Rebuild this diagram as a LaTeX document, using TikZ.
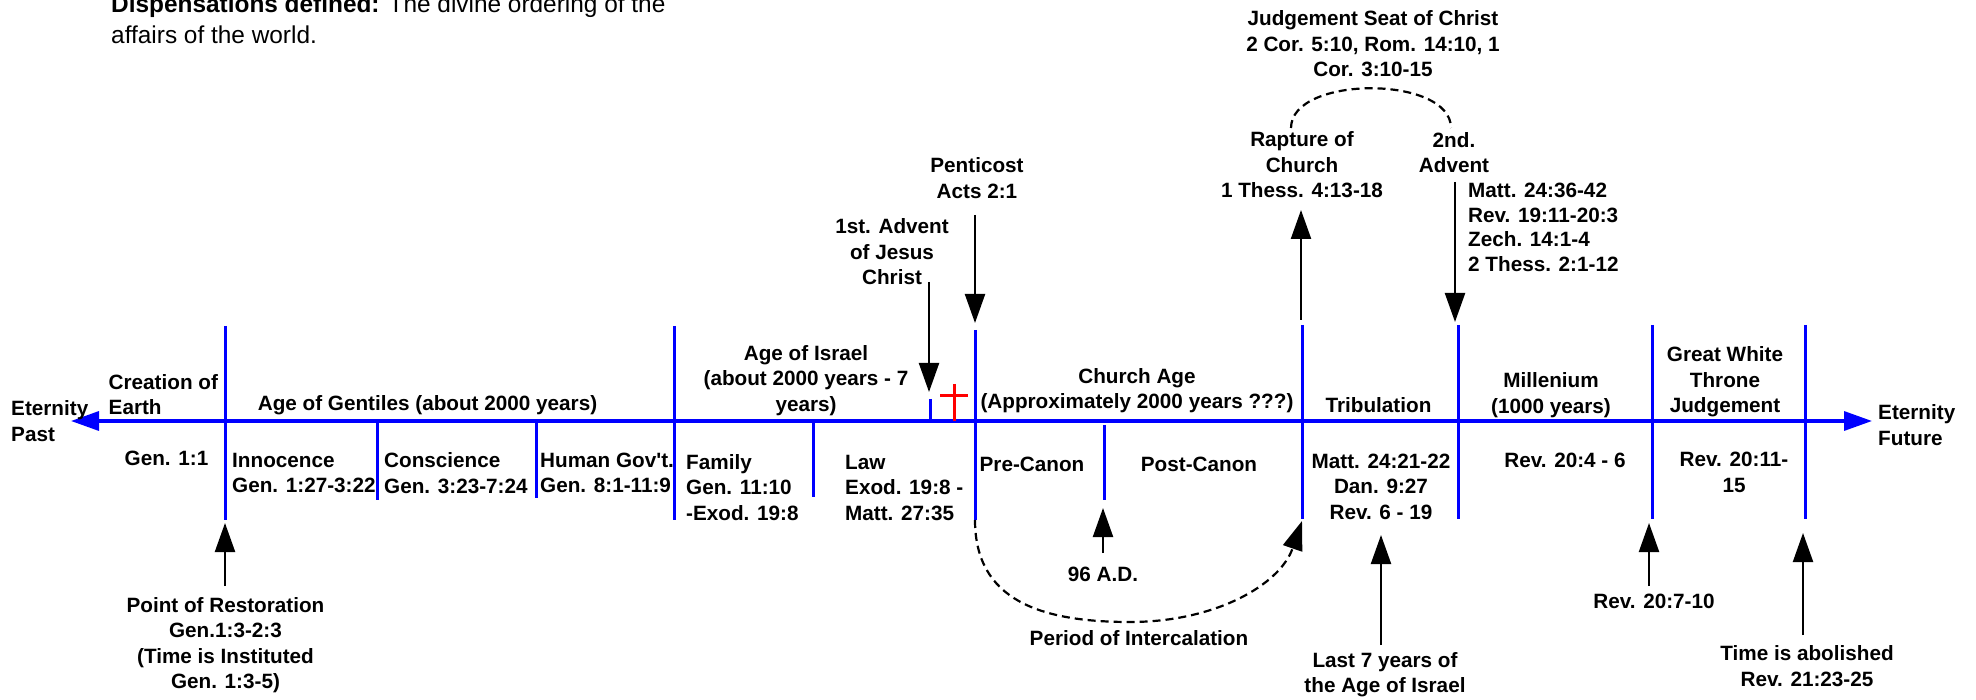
\documentclass[tikz,border=0pt]{standalone}
\usepackage{fontspec}
\setmainfont{Liberation Sans}[Ligatures=TeXOff]
\usetikzlibrary{arrows.meta}
\begin{document}
\begin{tikzpicture}[x=1pt,y=-1pt,
  lbl/.style={font=\fontsize{20.7}{25.5}\selectfont\bfseries, inner sep=0pt, align=center},
  lbll/.style={lbl, align=left},
  bline/.style={draw=blue, line width=3pt},
  axisline/.style={draw=blue, line width=3.4pt, {Triangle[length=28pt,width=19pt]}-{Triangle[length=28pt,width=19pt]}},
  arr/.style={draw=black, line width=2.2pt, -{Triangle[length=29pt,width=20pt]}},
  dasharc/.style={draw=black, line width=2.2pt, dash pattern=on 8pt off 5pt},
  crossline/.style={draw=red, line width=3pt}]
\fill[white] (0,0) rectangle (1976,700);
\useasboundingbox (0,0) rectangle (1976,700);

% title
\node[anchor=north west, inner sep=0pt, align=left, font=\fontsize{24.4}{31}\selectfont] (title) at (111,-5.8)
  {\textbf{Dispensations defined:} The divine ordering of the\\affairs of the world.};

% coordinates of the time line
\coordinate (axL) at (71,421);
\coordinate (axR) at (1872,421);
\coordinate (c1t) at (225,326);  \coordinate (c1b) at (225,520);
\coordinate (c2t) at (377,421);  \coordinate (c2b) at (377,500);
\coordinate (c3t) at (536,421);  \coordinate (c3b) at (536,498);
\coordinate (c4t) at (674,326);  \coordinate (c4b) at (674,520);
\coordinate (c5t) at (813,421);  \coordinate (c5b) at (813,497);
\coordinate (c6t) at (930,399);  \coordinate (c6b) at (930,421);
\coordinate (c7t) at (975,330);  \coordinate (c7b) at (975,520);
\coordinate (c8t) at (1104,425); \coordinate (c8b) at (1104,500);
\coordinate (c9t) at (1302,325); \coordinate (c9b) at (1302,519);
\coordinate (c10t) at (1458,325); \coordinate (c10b) at (1458,519);
\coordinate (c11t) at (1652,325); \coordinate (c11b) at (1652,519);
\coordinate (c12t) at (1805,325); \coordinate (c12b) at (1805,519);

% time line and dividers
\draw[axisline] (axL) -- (axR);
\foreach \i in {1,...,12} { \draw[bline] (c\i t) -- (c\i b); }

% cross
\coordinate (crT) at (954,384); \coordinate (crB) at (954,421);
\coordinate (crL) at (940,396); \coordinate (crR) at (968,396);
\draw[crossline] (crT) -- (crB);
\draw[crossline] (crL) -- (crR);

% labels
\node[lbll, anchor=west] (etpast) at (11,421) {Eternity\\Past};
\node[lbll, anchor=west] (creation) at (108.5,394.5) {Creation of\\Earth};
\node[lbl] (gentiles) at (427.5,405) {Age of Gentiles (about 2000 years)};
\node[lbl] (gen11) at (166.5,458) {Gen. 1:1};
\node[lbll, anchor=west] (innocence) at (232,473) {Innocence\\Gen. 1:27-3:22};
\node[lbll, anchor=west] (conscience) at (384,473) {Conscience\\Gen. 3:23-7:24};
\node[lbll, anchor=west] (humangov) at (540,473) {Human Gov't.\\Gen. 8:1-11:9};
\node[lbll, anchor=west] (family) at (686,487.5) {Family\\Gen. 11:10\\-Exod. 19:8};
\node[lbll, anchor=west] (law) at (845,487.5) {Law\\Exod. 19:8 -\\Matt. 27:35};
\node[lbl] (israel) at (806,380.5) {Age of Israel\\(about 2000 years - 7\\years)};
\node[lbl] (advent1) at (892,252) {1st. Advent\\of Jesus\\Christ};
\node[lbl] (penticost) at (977,178) {Penticost\\Acts 2:1};
\node[lbl] (churchage) at (1137,390.5) {Church Age\\(Approximately 2000 years ???)};
\node[lbl] (precanon) at (1032,464) {Pre-Canon};
\node[lbl] (postcanon) at (1199,464) {Post-Canon};
\node[lbl] (ad96) at (1103,574) {96 A.D.};
\node[lbl] (intercal) at (1139,638) {Period of Intercalation};
\node[lbl] (rapture) at (1302,165) {Rapture of\\Church\\1 Thess. 4:13-18};
\node[lbl] (judgement) at (1373,44) {Judgement Seat of Christ\\2 Cor. 5:10, Rom. 14:10, 1\\Cor. 3:10-15};
\node[lbl] (advent2) at (1454,152.5) {2nd.\\Advent};
\node[lbll, anchor=west, font=\fontsize{20.7}{24.5}\selectfont\bfseries] (advrefs) at (1468,227.5) {Matt. 24:36-42\\Rev. 19:11-20:3\\Zech. 14:1-4\\2 Thess. 2:1-12};
\node[lbl] (tribulation) at (1378.5,405) {Tribulation};
\node[lbl] (tribrefs) at (1381,486.5) {Matt. 24:21-22\\Dan. 9:27\\Rev. 6 - 19};
\node[lbl] (last7) at (1385,674.5) {Last 7 years of\\the Age of Israel};
\node[lbl] (millenium) at (1551,395) {Millenium\\(1000 years)};
\node[lbl] (millrefs) at (1565,460) {Rev. 20:4 - 6};
\node[lbl] (gwt) at (1725,382) {Great White\\Throne\\Judgement};
\node[lbl] (gwtrefs) at (1734,472.5) {Rev. 20:11-\\15};
\node[lbl] (rev2007) at (1654,601) {Rev. 20:7-10};
\node[lbl] (abolished) at (1807,666) {Time is abolished\\Rev. 21:23-25};
\node[lbll, anchor=west] (etfuture) at (1878,425) {Eternity\\Future};
\node[lbl] (restoration) at (225.5,645) {Point of Restoration\\Gen.1:3-2:3\\(Time is Instituted\\Gen. 1:3-5)};

% arrows
\coordinate (aRs) at (225,586);  \coordinate (aRe) at (225,523);
\coordinate (aAs) at (929,282);  \coordinate (aAe) at (929,392);
\coordinate (aPs) at (975,215);  \coordinate (aPe) at (975,323);
\coordinate (aUs) at (1301,320); \coordinate (aUe) at (1301,210);
\coordinate (aSs) at (1455,182); \coordinate (aSe) at (1455,322);
\coordinate (aDs) at (1103,553); \coordinate (aDe) at (1103,508);
\coordinate (aLs) at (1381,645); \coordinate (aLe) at (1381,535);
\coordinate (aVs) at (1649,586); \coordinate (aVe) at (1649,523);
\coordinate (aTs) at (1803,635); \coordinate (aTe) at (1803,533);
\draw[arr] (aRs) -- (aRe);
\draw[arr] (aAs) -- (aAe);
\draw[arr] (aPs) -- (aPe);
\draw[arr] (aUs) -- (aUe);
\draw[arr] (aSs) -- (aSe);
\draw[arr] (aDs) -- (aDe);
\draw[arr] (aLs) -- (aLe);
\draw[arr] (aVs) -- (aVe);
\draw[arr] (aTs) -- (aTe);

% dashed arcs
\coordinate (jL) at (1291,128); \coordinate (jR) at (1451,128);
\draw[dasharc] (jL) .. controls (1291,75) and (1451,75) .. (jR);
\coordinate (iMid) at (1130,622); \coordinate (iEnd) at (1302,521);
\draw[dasharc, -{Triangle[length=29pt,width=20pt]}] (c7b) .. controls (975,600) and (1040,622) .. (iMid)
   .. controls (1215,622) and (1280,585) .. (iEnd);
\end{tikzpicture}
\end{document}
